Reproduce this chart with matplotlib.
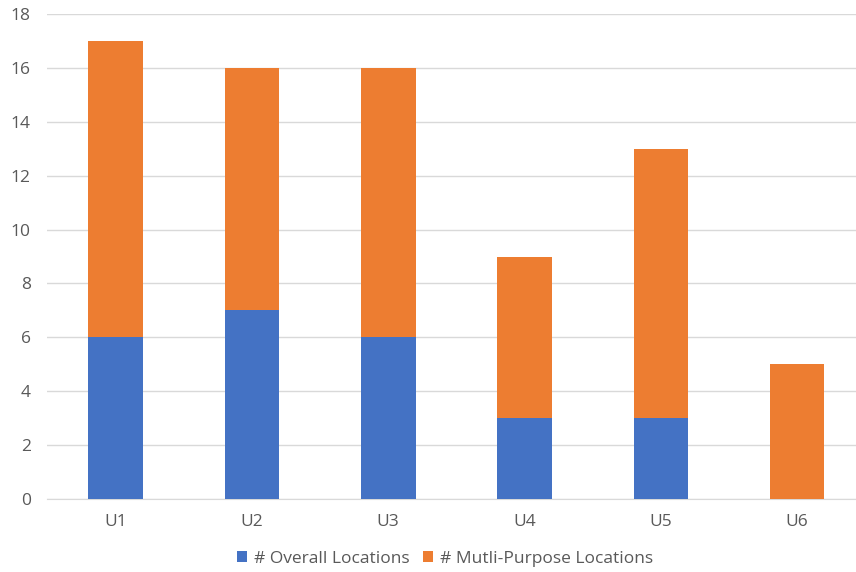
import matplotlib
matplotlib.use("Agg")
import matplotlib.pyplot as plt
import numpy as np

# ----- DATA -----
users = ["U1", "U2", "U3", "U4", "U5", "U6"]
overall = [6, 7, 6, 3, 3, 0]
multi_purpose = [11, 9, 10, 6, 10, 5]
y_ticks = [0, 2, 4, 6, 8, 10, 12, 14, 16, 18]

BLUE = "#4472C4"
ORANGE = "#ED7D31"
TXT = "#595959"

plt.rcParams["font.family"] = ["Open Sans", "DejaVu Sans"]

fig = plt.figure(figsize=(8.56, 5.72), dpi=100)
ax = fig.add_axes([47.4 / 856, 73 / 572, 818 / 856, 485 / 572])

x = np.arange(len(users))
ax.bar(x, overall, width=0.4, color=BLUE, label="# Overall Locations", zorder=3)
ax.bar(x, multi_purpose, width=0.4, bottom=overall, color=ORANGE,
       label="# Mutli-Purpose Locations", zorder=3)

ax.set_xlim(-0.5, len(users) - 0.5)
ax.set_ylim(0, 18)
ax.set_yticks(y_ticks)
ax.set_xticks(x)
ax.set_xticklabels(users)

ax.grid(axis="y", color="#D9D9D9", linewidth=1, zorder=0)
for s in ["top", "right", "left"]:
    ax.spines[s].set_visible(False)
ax.spines["bottom"].set_color("#D9D9D9")
ax.tick_params(axis="both", length=0, colors=TXT, labelsize=12.5)
ax.tick_params(axis="x", pad=11)
ax.tick_params(axis="y", pad=12)

fig.legend(loc="center", bbox_to_anchor=(0.52, 1 - 559 / 572), ncol=2,
           frameon=False, fontsize=12.5, labelcolor=TXT, handlelength=0.6,
           handleheight=0.6, handletextpad=0.4, columnspacing=0.75)

fig.savefig("out.png", dpi=100)
